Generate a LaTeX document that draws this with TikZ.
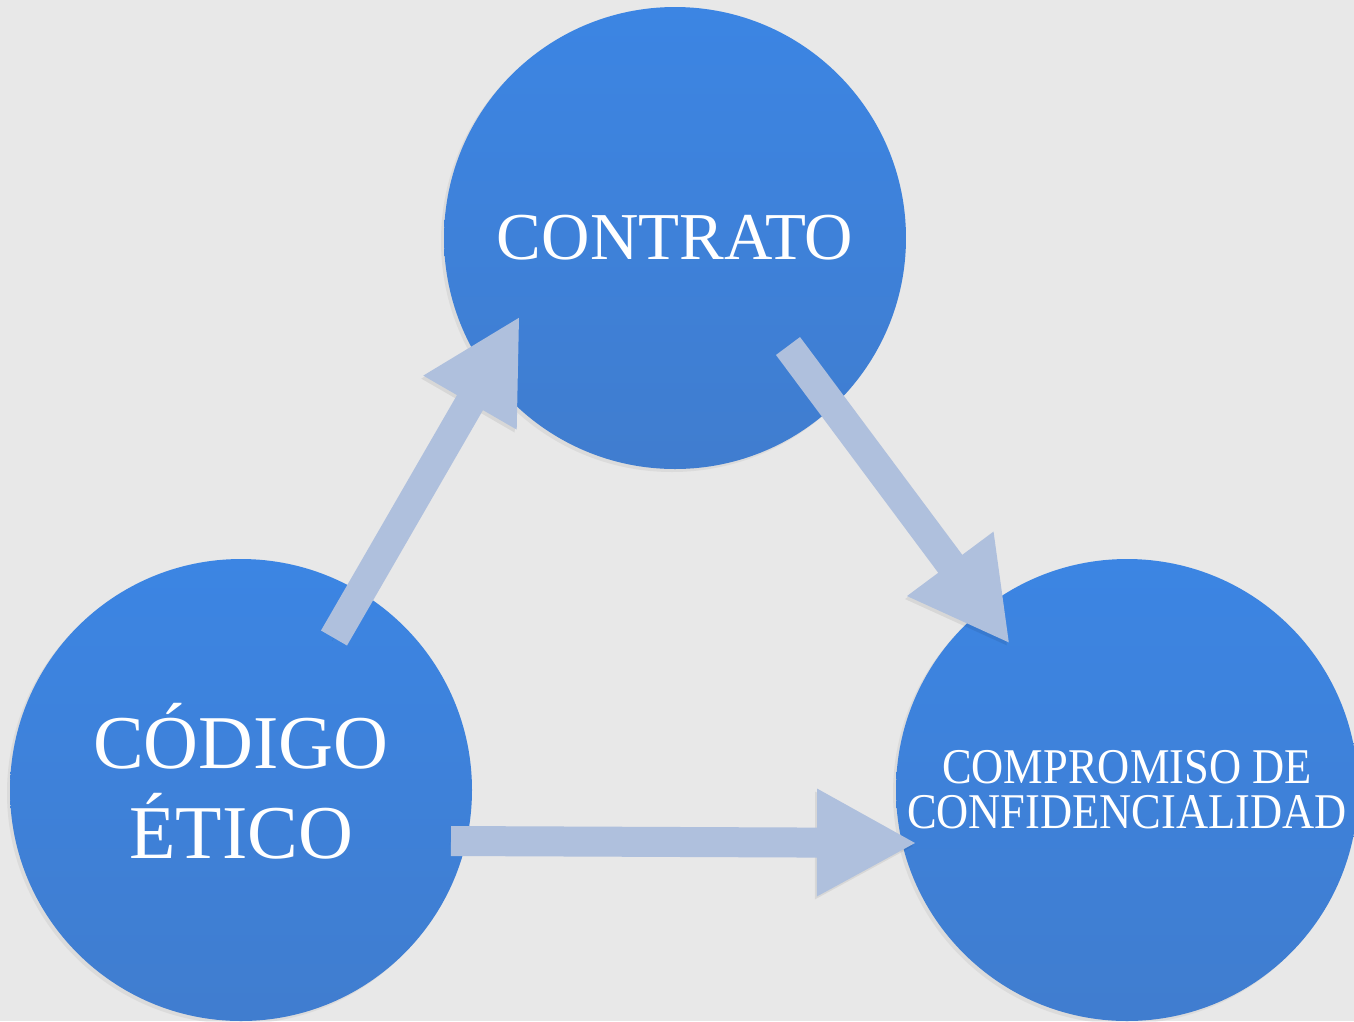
\documentclass[tikz,border=0pt]{standalone}
\usepackage{fontspec}
\setmainfont{Liberation Serif}
\usetikzlibrary{arrows.meta,calc,shadows}

\definecolor{bggray}{RGB}{232,232,232}
\definecolor{cirtop}{RGB}{60,133,227}
\definecolor{cirbot}{RGB}{64,125,207}
\definecolor{arrcol}{RGB}{175,192,221}

\tikzset{   cirblue/.style={circle,minimum size=462pt,inner sep=0pt,top color=cirtop,bottom color=cirbot,
                draw=none,text=white,align=center,
                drop shadow={opacity=0.12,shadow xshift=-3pt,shadow yshift=-3pt}},
            arrblue/.style={draw=arrcol,line width=30pt,-{Triangle[length=100pt,width=100pt]},
                preaction={draw=black,opacity=0.07,transform canvas={shift={(-2pt,-3pt)}}}},
}

\begin{document}
\begin{tikzpicture}[x=1pt,y=-1pt]
    \useasboundingbox (0,0) rectangle (1354,1021);
    \fill[bggray] (0,0) rectangle (1354,1021); % background
    \clip (0,0) rectangle (1354,1021);

    \node[cirblue,font=\fontsize{67}{70}\selectfont] (contrato) at (675,238) {CONTRATO}; % circles
    \node[cirblue,font=\fontsize{76}{90}\selectfont,text depth=18pt] (codigo) at (241,790) {CÓDIGO\\ÉTICO};
    \node[cirblue,font=\fontsize{50}{45}\selectfont] (compromiso) at (1127,790)
        {\scalebox{0.89}[1]{COMPROMISO DE}\\\scalebox{0.89}[1]{CONFIDENCIALIDAD}};

    \coordinate (a1s) at ($(codigo)+(93,-152)$);     % arrow ends
    \coordinate (a1e) at ($(contrato)+(-155,78)$);
    \coordinate (a2s) at ($(contrato)+(113,108)$);
    \coordinate (a2e) at ($(compromiso)+(-117,-146)$);
    \coordinate (a3s) at ($(codigo)+(210,51)$);
    \coordinate (a3e) at ($(compromiso)+(-210,53)$);

    \draw[arrblue] (a1s) -- (a1e); % arrows
    \draw[arrblue] (a2s) -- (a2e);
    \draw[arrblue] (a3s) -- (a3e);
\end{tikzpicture}
\end{document}
